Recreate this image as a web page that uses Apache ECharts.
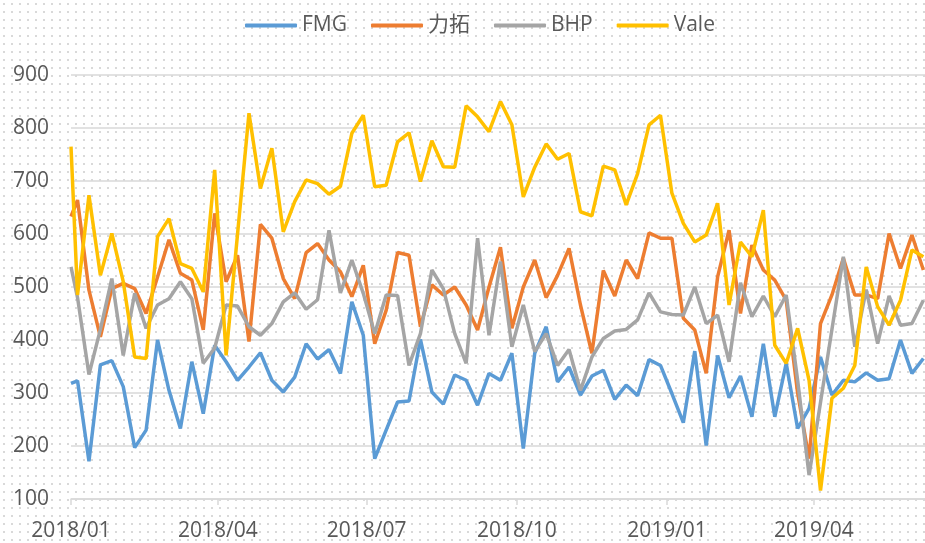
<!DOCTYPE html>
<html>
<head>
<meta charset="utf-8">
<script src="https://cdn.jsdelivr.net/npm/echarts@6/dist/echarts.min.js"></script>
<style>
  html, body { margin: 0; padding: 0; background: #fff; }
  #main { width: 925px; height: 543px; }
</style>
</head>
<body>
<div id="main"></div>
<script>
// 周度日期
var dates = [
  '2018-01-01', '2018-01-05', '2018-01-12', '2018-01-19', '2018-01-26',
  '2018-02-02', '2018-02-09', '2018-02-16', '2018-02-23',
  '2018-03-02', '2018-03-09', '2018-03-16', '2018-03-23', '2018-03-30',
  '2018-04-06', '2018-04-13', '2018-04-20', '2018-04-27',
  '2018-05-04', '2018-05-11', '2018-05-18', '2018-05-25',
  '2018-06-01', '2018-06-08', '2018-06-15', '2018-06-22', '2018-06-29',
  '2018-07-06', '2018-07-13', '2018-07-20', '2018-07-27',
  '2018-08-03', '2018-08-10', '2018-08-17', '2018-08-24', '2018-08-31',
  '2018-09-07', '2018-09-14', '2018-09-21', '2018-09-28',
  '2018-10-05', '2018-10-12', '2018-10-19', '2018-10-26',
  '2018-11-02', '2018-11-09', '2018-11-16', '2018-11-23', '2018-11-30',
  '2018-12-07', '2018-12-14', '2018-12-21', '2018-12-28',
  '2019-01-04', '2019-01-11', '2019-01-18', '2019-01-25',
  '2019-02-01', '2019-02-08', '2019-02-15', '2019-02-22',
  '2019-03-01', '2019-03-08', '2019-03-15', '2019-03-22', '2019-03-29',
  '2019-04-05', '2019-04-12', '2019-04-19', '2019-04-26',
  '2019-05-03', '2019-05-10', '2019-05-17', '2019-05-24', '2019-05-31',
  '2019-06-07'
];

var fmg = [318, 323, 171, 353, 361, 312, 197, 230, 400, 305, 233, 359, 261, 390, 359, 324,
  349, 376, 324, 302, 330, 393, 364, 382, 337, 472, 409, 176, 230, 283, 285, 401,
  302, 279, 334, 324, 277, 337, 324, 375, 195, 375, 425, 321, 349, 296, 332, 343,
  288, 315, 295, 363, 352, 299, 244, 379, 201, 371, 291, 332, 255, 393, 255, 356,
  233, 271, 368, 296, 324, 321, 338, 324, 327, 400, 337, 365];

var rio = [633, 664, 494, 406, 497, 507, 497, 450, 519, 589, 526, 513, 419, 639, 510, 560,
  397, 618, 592, 516, 478, 565, 582, 551, 529, 482, 541, 393, 456, 565, 560, 425,
  504, 485, 500, 466, 419, 500, 575, 422, 500, 551, 480, 522, 573, 466, 375, 531,
  483, 551, 516, 602, 592, 592, 441, 419, 337, 519, 607, 450, 579, 532, 513, 475,
  300, 176, 431, 485, 554, 485, 485, 478, 601, 535, 598, 532];

var bhp = [538, 480, 335, 420, 516, 371, 488, 422, 466, 478, 510, 478, 356, 385, 466, 464,
  425, 409, 431, 472, 489, 458, 476, 607, 489, 551, 488, 412, 485, 484, 352, 412,
  532, 497, 412, 356, 592, 409, 548, 387, 466, 378, 412, 352, 382, 305, 368, 403,
  417, 420, 438, 489, 453, 448, 447, 500, 431, 447, 359, 508, 444, 483, 444, 485,
  324, 145, 282, 420, 557, 387, 495, 393, 483, 428, 431, 475];

var vale = [765, 485, 673, 522, 601, 510, 368, 365, 595, 629, 544, 535, 491, 721, 371, 600,
  828, 686, 762, 604, 661, 702, 695, 675, 690, 790, 824, 689, 692, 774, 791, 699,
  776, 727, 726, 842, 821, 793, 850, 806, 670, 726, 770, 741, 752, 642, 634, 728,
  721, 655, 714, 806, 824, 677, 620, 585, 598, 658, 466, 585, 557, 645, 390, 356,
  422, 324, 116, 290, 309, 352, 538, 463, 428, 475, 570, 557];

var quarterTicks = ['2018-01-01', '2018-04-01', '2018-07-01', '2018-10-01', '2019-01-01', '2019-04-01'];
var seriesNames = ['FMG', '力拓', 'BHP', 'Vale'];
var seriesColors = ['#5B9BD5', '#ED7D31', '#A5A5A5', '#FFC000'];

function toTime(s) {
  var p = s.split('-');
  return new Date(+p[0], +p[1] - 1, +p[2]).getTime();
}
function pairs(arr) {
  return arr.map(function (v, i) { return [toTime(dates[i]), v]; });
}

// 点状背景
var dot = document.createElement('canvas');
dot.width = 8; dot.height = 8;
var ctx = dot.getContext('2d');
ctx.fillStyle = '#fff';
ctx.fillRect(0, 0, 8, 8);
ctx.fillStyle = '#d9d9d9';
ctx.fillRect(3, 3, 2, 2);

var font = "'Open Sans', 'Noto Sans CJK SC', sans-serif";
var chart = echarts.init(document.getElementById('main'), null, { renderer: 'canvas' });

var allData = [fmg, rio, bhp, vale];
var option = {
  backgroundColor: { image: dot, repeat: 'repeat' },
  animation: false,
  color: seriesColors,
  legend: {
    top: 10,
    left: 240,
    icon: 'roundRect',
    itemWidth: 52,
    itemHeight: 4,
    itemGap: 24,
    textStyle: { fontSize: 21, color: '#595959', fontFamily: font },
    data: seriesNames
  },
  grid: { left: 71, right: 0, top: 75, bottom: 44 },
  xAxis: {
    type: 'value',
    min: toTime('2018-01-01'),
    max: toTime('2019-06-08'),
    splitLine: { show: false },
    axisLine: { lineStyle: { color: '#d9d9d9', width: 1.5 } },
    axisTick: {
      show: true, length: 6, inside: false,
      customValues: quarterTicks.map(toTime),
      lineStyle: { color: '#d9d9d9', width: 1.5 }
    },
    axisLabel: {
      customValues: quarterTicks.map(toTime),
      margin: 22,
      fontSize: 21,
      color: '#595959',
      fontFamily: font,
      formatter: function (v) {
        var d = new Date(v);
        var m = d.getMonth() + 1;
        return d.getFullYear() + '/' + (m < 10 ? '0' + m : m);
      }
    }
  },
  yAxis: {
    type: 'value',
    min: 100,
    max: 900,
    interval: 100,
    axisLine: { show: false },
    axisTick: { show: false },
    splitLine: { lineStyle: { color: '#d9d9d9', width: 1.5 } },
    axisLabel: { margin: 22, fontSize: 21, color: '#595959', fontFamily: font }
  },
  series: seriesNames.map(function (name, i) {
    return {
      name: name,
      type: 'line',
      data: pairs(allData[i]),
      symbol: 'none',
      lineStyle: { width: 3.5, color: seriesColors[i] },
      itemStyle: { color: seriesColors[i] }
    };
  })
};
chart.setOption(option);
</script>
</body>
</html>
